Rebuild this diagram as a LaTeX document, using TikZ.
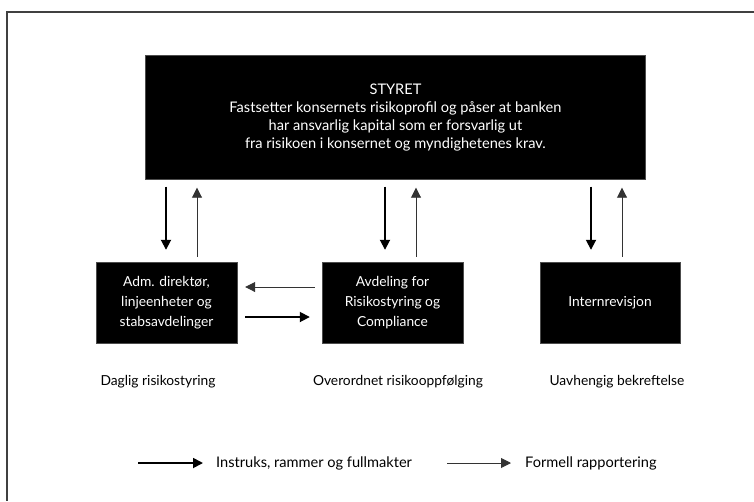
\documentclass[tikz,border=0pt]{standalone}
\usepackage{fontspec}
\setmainfont{Lato}
\usetikzlibrary{arrows.meta,calc}
\tikzset{
  blackbox/.style={draw=black!70, fill=black, text=white, align=center, inner sep=0pt, font=\fontsize{13.8}{20}\selectfont},
  instr/.style={line width=1.8pt, -{Triangle[length=10pt,width=10pt]}},
  report/.style={line width=0.9pt, draw=black!80, -{Triangle[length=10pt,width=10pt]}},
  lbl/.style={font=\fontsize{13.8}{16}\selectfont, inner sep=0pt},
  frame/.style={line width=1.4pt, draw=black!75}
}
\begin{document}
\begin{tikzpicture}[x=1pt,y=-1pt]
\useasboundingbox (0,0) rectangle (754,501);
\coordinate (ftop) at (754,12);
\coordinate (fcorner) at (7,12);
\coordinate (fbot) at (7,501);
\draw[frame] (ftop) -- (fcorner) -- (fbot);

\node[blackbox, minimum width=500pt, minimum height=124pt, font=\fontsize{14.6}{18.3}\selectfont] (styret) at (395.5,117.5)
  {STYRET\\Fastsetter konsernets risikoprofil og påser at banken\\har ansvarlig kapital som er forsvarlig ut\\fra risikoen i konsernet og myndighetenes krav.};

\node[blackbox, minimum width=141pt, minimum height=81pt] (adm) at (166.5,302.5)
  {Adm. direktør,\\linjeenheter og\\stabsavdelinger};
\node[blackbox, minimum width=141pt, minimum height=81pt] (avd) at (392.5,302.5)
  {Avdeling for\\Risikostyring og\\Compliance};
\node[blackbox, minimum width=140pt, minimum height=81pt] (intern) at (610,302.5)
  {Internrevisjon};

% vertical arrows
\draw[instr, shorten <=7pt, shorten >=12pt] ([xshift=-0.5pt]adm.north |- styret.south) -- ([xshift=-0.5pt]adm.north);
\draw[report, shorten <=5pt, shorten >=8pt] ([xshift=30.5pt]adm.north) -- ([xshift=30.5pt]adm.north |- styret.south);
\draw[instr, shorten <=7pt, shorten >=12pt] ([xshift=-7.5pt]avd.north |- styret.south) -- ([xshift=-7.5pt]avd.north);
\draw[report, shorten <=5pt, shorten >=8pt] ([xshift=23.5pt]avd.north) -- ([xshift=23.5pt]avd.north |- styret.south);
\draw[instr, shorten <=7pt, shorten >=12pt] ([xshift=-19pt]intern.north |- styret.south) -- ([xshift=-19pt]intern.north);
\draw[report, shorten <=5pt, shorten >=8pt] ([xshift=12pt]intern.north) -- ([xshift=12pt]intern.north |- styret.south);

% horizontal arrows (yshift is in canvas direction: positive = up)
\draw[report, shorten <=7pt, shorten >=8pt] ([yshift=15.5pt]avd.west) -- ([yshift=15.5pt]adm.east);
\draw[instr, shorten <=8pt, shorten >=12pt] ([yshift=-14.5pt]adm.east) -- ([yshift=-14.5pt]avd.west);

% labels
\node[lbl] (l1) at (158,382) {Daglig risikostyring};
\node[lbl] (l2) at (398,382) {Overordnet risikooppfølging};
\node[lbl] (l3) at (617,382) {Uavhengig bekreftelse};

% legend
\coordinate (la1) at (138,463);
\coordinate (la2) at (203,463);
\node[lbl, anchor=west, font=\fontsize{14.6}{16}\selectfont] (leg1) at (216,463) {Instruks, rammer og fullmakter};
\coordinate (lb1) at (447,463);
\coordinate (lb2) at (511,463);
\node[lbl, anchor=west, font=\fontsize{14.6}{16}\selectfont] (leg2) at (525,463) {Formell rapportering};
\draw[instr] (la1) -- (la2);
\draw[report] (lb1) -- (lb2);
\end{tikzpicture}
\end{document}
